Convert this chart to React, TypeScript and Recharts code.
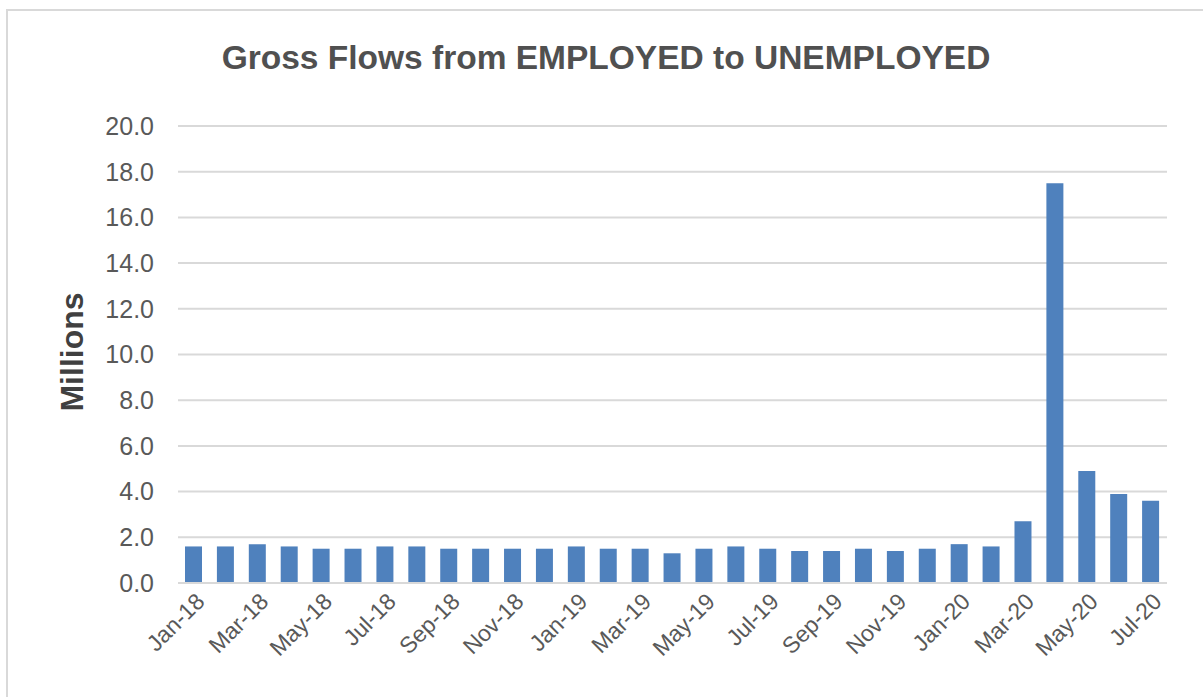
import React from "react";
import { BarChart, Bar, XAxis, YAxis, CartesianGrid } from "recharts";

const months = [
  "Jan-18", "Feb-18", "Mar-18", "Apr-18", "May-18", "Jun-18", "Jul-18", "Aug-18",
  "Sep-18", "Oct-18", "Nov-18", "Dec-18", "Jan-19", "Feb-19", "Mar-19", "Apr-19",
  "May-19", "Jun-19", "Jul-19", "Aug-19", "Sep-19", "Oct-19", "Nov-19", "Dec-19",
  "Jan-20", "Feb-20", "Mar-20", "Apr-20", "May-20", "Jun-20", "Jul-20",
];

const flows = [
  1.6, 1.6, 1.7, 1.6, 1.5, 1.5, 1.6, 1.6, 1.5, 1.5, 1.5, 1.5, 1.6, 1.5, 1.5, 1.3,
  1.5, 1.6, 1.5, 1.4, 1.4, 1.5, 1.4, 1.5, 1.7, 1.6, 2.7, 17.5, 4.9, 3.9, 3.6,
];

const yTicks = [0, 2, 4, 6, 8, 10, 12, 14, 16, 18, 20];

const data = months.map((m, i) => ({ month: m, value: flows[i] }));

const FONT = "'Liberation Sans', Arial, sans-serif";

const MonthTick = (props: any) => {
  const { x, y, payload } = props;
  return (
    <g transform={`translate(${x + 12},${y + 12})`}>
      <text
        x={0}
        y={0}
        textAnchor="end"
        transform="rotate(-45)"
        fill="#595959"
        fontSize={23}
        fontFamily={FONT}
      >
        {payload.value}
      </text>
    </g>
  );
};

export default function App() {
  return (
    <div
      style={{
        position: "absolute",
        left: 0,
        top: 0,
        width: 1203,
        height: 697,
        background: "#fff",
        overflow: "hidden",
      }}
    >
      <div
        style={{
          position: "absolute",
          left: 6,
          top: 9,
          width: 1250,
          height: 750,
          border: "2px solid #d9d9d9",
          boxSizing: "border-box",
        }}
      />
      <div
        style={{
          position: "absolute",
          left: 0,
          top: 39,
          width: 1212,
          textAlign: "center",
          fontFamily: FONT,
          fontWeight: "bold",
          fontSize: 33.5,
          color: "#505050",
        }}
      >
        Gross Flows from EMPLOYED to UNEMPLOYED
      </div>
      <div
        style={{
          position: "absolute",
          left: 72,
          top: 352,
          transform: "translate(-50%, -50%) rotate(-90deg)",
          fontFamily: FONT,
          fontWeight: "bold",
          fontSize: 32,
          color: "#404040",
          whiteSpace: "nowrap",
        }}
      >
        Millions
      </div>
      <div style={{ position: "absolute", left: 0, top: 0 }}>
        <BarChart
          width={1203}
          height={697}
          data={data}
          margin={{ top: 126, right: 36, bottom: 34, left: 0 }}
        >
          <CartesianGrid vertical={false} stroke="#d9d9d9" strokeWidth={2} />
          <XAxis
            dataKey="month"
            interval={1}
            height={80}
            tickLine={false}
            axisLine={{ stroke: "#d9d9d9", strokeWidth: 2 }}
            tick={<MonthTick />}
          />
          <YAxis
            width={178}
            domain={[0, 20]}
            ticks={yTicks}
            tickFormatter={(v: number) => v.toFixed(1)}
            axisLine={false}
            tickLine={false}
            tickSize={0}
            tickMargin={24}
            tick={{ fill: "#595959", fontSize: 25, fontFamily: FONT }}
          />
          <Bar dataKey="value" fill="#4f81bd" barSize={17} isAnimationActive={false} />
        </BarChart>
      </div>
    </div>
  );
}
